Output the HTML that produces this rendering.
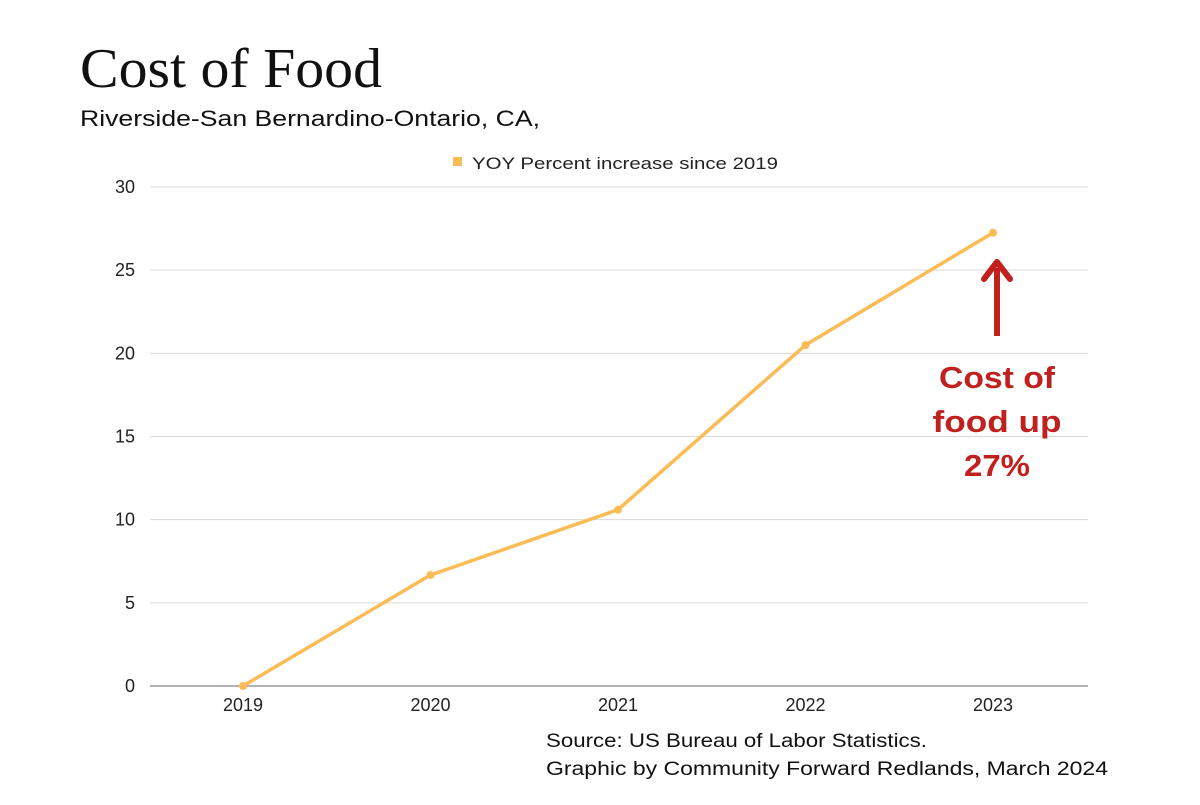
<!DOCTYPE html>
<html><head><meta charset="utf-8"><style>
body{margin:0;background:#fff;width:1200px;height:800px;overflow:hidden;font-family:"Liberation Sans",sans-serif;}
svg text{font-family:"Liberation Sans",sans-serif;}
</style></head><body>
<svg width="1200" height="800">
<text x="80" y="87" font-size="56" fill="#111" style="font-family:'Liberation Serif',serif" textLength="302" lengthAdjust="spacingAndGlyphs">Cost of Food</text>
<text x="80" y="126" font-size="22" fill="#111" textLength="460" lengthAdjust="spacingAndGlyphs">Riverside-San Bernardino-Ontario, CA,</text>
<rect x="453" y="157" width="9" height="9" fill="#fbbc55"/>
<text x="472" y="169" font-size="17" fill="#222" textLength="306" lengthAdjust="spacingAndGlyphs">YOY Percent increase since 2019</text>
<g id="grid"></g><g id="series"></g>
<g>
<line x1="997" y1="336" x2="997" y2="268" stroke="#c0201e" stroke-width="6"/>
<polyline points="984,279 997,262 1010,279" fill="none" stroke="#c0201e" stroke-width="6" stroke-linecap="round" stroke-linejoin="round"/>
<text x="997" y="388" text-anchor="middle" font-size="31" font-weight="bold" fill="#c0201e" textLength="116" lengthAdjust="spacingAndGlyphs">Cost of</text>
<text x="997" y="432" text-anchor="middle" font-size="31" font-weight="bold" fill="#c0201e" textLength="129" lengthAdjust="spacingAndGlyphs">food up</text>
<text x="997" y="476" text-anchor="middle" font-size="31" font-weight="bold" fill="#c0201e" textLength="66" lengthAdjust="spacingAndGlyphs">27%</text>
</g>
<text x="546" y="747" font-size="19" fill="#111" textLength="381" lengthAdjust="spacingAndGlyphs">Source: US Bureau of Labor Statistics.</text>
<text x="546" y="775" font-size="19" fill="#111" textLength="562" lengthAdjust="spacingAndGlyphs">Graphic by Community Forward Redlands, March 2024</text>
</svg>
<script>
const categories=["2019","2020","2021","2022","2023"];
const values=[0,6.67,10.6,20.5,27.25];
const yTicks=[0,5,10,15,20,25,30];
const NS="http://www.w3.org/2000/svg";
const x0=150,x1=1088,y0=686,y1=187;
const xs=i=>243+i*(993-243)/(categories.length-1);
const ys=v=>y0-(v/30)*(y0-y1);
const grid=document.getElementById('grid'),ser=document.getElementById('series');
function mk(t,a,p){const e=document.createElementNS(NS,t);for(const k in a)e.setAttribute(k,a[k]);p.appendChild(e);return e;}
yTicks.forEach(t=>{
 const l=mk('line',{x1:x0,x2:x1,y1:ys(t),y2:ys(t),stroke:t===0?'#999':'#d9d9d9','stroke-width':t===0?1.5:1},grid);
 
 
 const tx=mk('text',{x:135,y:ys(t)+6,'text-anchor':'end','font-size':18,fill:'#222'},grid);tx.textContent=t;
 
 
});
categories.forEach((c,i)=>{
 const tx=mk('text',{x:xs(i),y:711,'text-anchor':'middle','font-size':18,fill:'#222'},grid);tx.textContent=c;
 
 
});
const pl=mk('polyline',{points:values.map((v,i)=>xs(i)+','+ys(v)).join(' '),fill:'none',stroke:'#fbbc55','stroke-width':3.5,'stroke-linejoin':'round'},ser);


values.forEach((v,i)=>{
 const c=mk('circle',{cx:xs(i),cy:ys(v),r:4,fill:'#fbbc55'},ser);
 
 
});
</script>
</body></html>
